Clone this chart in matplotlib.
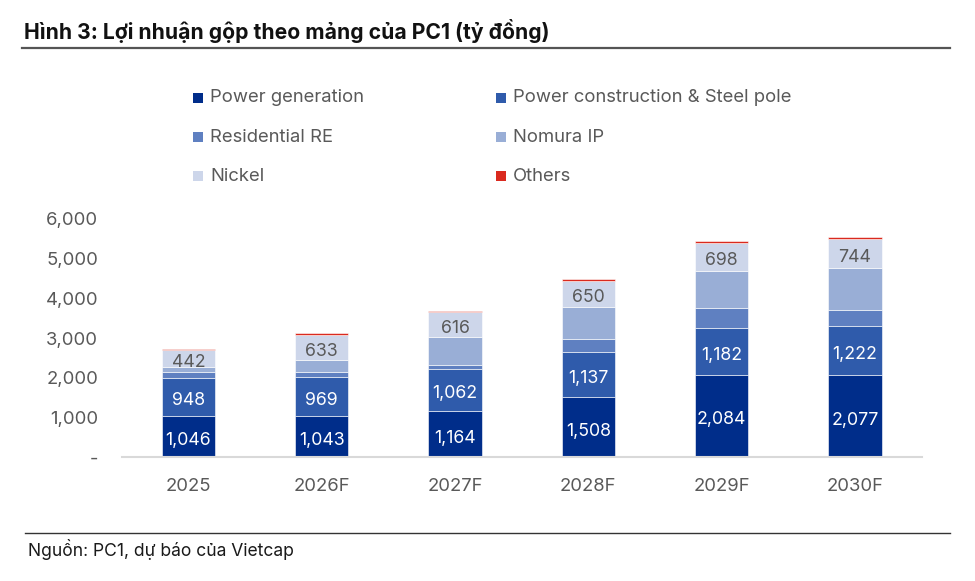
import matplotlib
matplotlib.use("Agg")
import matplotlib.pyplot as plt
from matplotlib.patches import Rectangle
from matplotlib.lines import Line2D
from matplotlib.ticker import FuncFormatter
import numpy as np

plt.rcParams['font.family'] = ['Inter', 'DejaVu Sans']

years = ['2025', '2026F', '2027F', '2028F', '2029F', '2030F']
power_gen = [1046, 1043, 1164, 1508, 2084, 2077]
power_cons = [948, 969, 1062, 1137, 1182, 1222]
residential = [145, 140, 102, 340, 495, 400]
nomura = [128, 298, 705, 808, 935, 1063]
nickel = [442, 633, 616, 650, 698, 744]
others = [25, 40, 40, 50, 50, 50]

series_names = ['Power generation', 'Power construction & Steel pole',
                'Residential RE', 'Nomura IP', 'Nickel', 'Others']
series_vals = [power_gen, power_cons, residential, nomura, nickel, others]
colors = ['#002D8A', '#2F5BAB', '#5F80C1', '#99AED6', '#CDD6EA', '#DA2A1F']
labeled = [True, True, False, False, True, False]
label_colors = ['white', 'white', None, None, '#595959', None]

title = 'Hình 3: Lợi nhuận gộp theo mảng của PC1 (tỷ đồng)'
source = 'Nguồn: PC1, dự báo của Vietcap'

W, H = 975, 581
fig = plt.figure(figsize=(W / 100, H / 100), dpi=100)
ax = fig.add_axes([121.7 / W, 1 - 457.3 / H, 800 / W, 238.3 / H])

x = np.arange(len(years))
bottom = np.zeros(len(years))
gray = '#595959'
for name, vals, c, lab, lc in zip(series_names, series_vals, colors, labeled, label_colors):
    v = np.array(vals, dtype=float)
    ax.bar(x, v, 0.4, bottom=bottom, color=c, edgecolor='white', linewidth=0.4, label=name)
    if lab:
        for xi, b, vi in zip(x, bottom, v):
            ax.text(xi, b + vi / 2 - 50, f'{int(vi):,}', ha='center', va='center_baseline',
                    color=lc, fontsize=12.8)
    bottom += v

ax.set_xlim(-0.5, len(years) - 0.5)
ax.set_ylim(0, 6000)
ax.set_yticks(np.arange(0, 6001, 1000))
ax.yaxis.set_major_formatter(FuncFormatter(lambda v, p: '-' if v == 0 else f'{int(v):,}'))
ax.set_xticks(x)
ax.set_xticklabels(years)
for s in ['top', 'right', 'left']:
    ax.spines[s].set_visible(False)
ax.spines['bottom'].set_color('#D9D9D9')
ax.spines['bottom'].set_linewidth(1.5)
ax.tick_params(axis='both', length=0, colors=gray, labelsize=13.3)
ax.tick_params(axis='y', pad=17)
ax.tick_params(axis='x', pad=15)

# Title and rules
fig.text(24 / W, 1 - 31 / H, title, fontsize=15.2, fontweight='bold', color='#111111',
         ha='left', va='center')
fig.add_artist(Line2D([22 / W, 950 / W], [1 - 48 / H, 1 - 48 / H], color='#555555', lw=1.6))
fig.add_artist(Line2D([25 / W, 950 / W], [1 - 533 / H, 1 - 533 / H], color='#333333', lw=1.0))
fig.text(28 / W, 1 - 550 / H, source, fontsize=12.6, color='#1a1a1a', ha='left', va='center')

# Legend (2 columns x 3 rows)
col_x = [193, 496]
row_y = [98, 137, 176]
for i, (name, c) in enumerate(zip(series_names, colors)):
    cx = col_x[i % 2]
    cy = row_y[i // 2]
    fig.add_artist(Rectangle((cx / W, 1 - (cy + 5) / H), 10 / W, 10 / H,
                             transform=fig.transFigure, facecolor=c, edgecolor='none'))
    fig.text((cx + 17) / W, 1 - cy / H, name, fontsize=13.3, color=gray, ha='left', va='center')

fig.savefig('out.png', dpi=100)
